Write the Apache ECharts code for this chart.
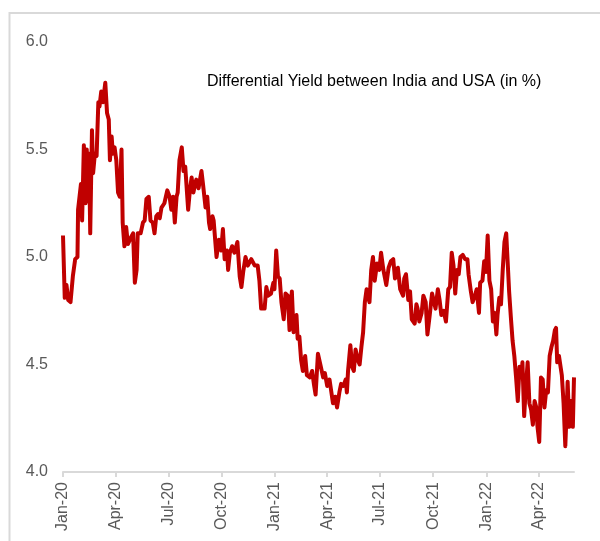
<!DOCTYPE html>
<html>
<head>
<meta charset="utf-8">
<script src="https://cdn.jsdelivr.net/npm/echarts@6/dist/echarts.min.js"></script>
<style>
html,body{margin:0;padding:0;background:#fff;}
#chart{width:600px;height:541px;}
</style>
</head>
<body>
<div id="chart"></div>
<script>
const chartTitle = 'Differential Yield between India and USA (in %)';

const dates = [
'2020-01-01','2020-01-04','2020-01-07','2020-01-10','2020-01-14','2020-01-18','2020-01-22','2020-01-26','2020-01-27','2020-01-30',
'2020-02-01','2020-02-03','2020-02-06','2020-02-09','2020-02-11','2020-02-13','2020-02-15','2020-02-17','2020-02-20','2020-02-22',
'2020-02-25','2020-02-28','2020-03-02','2020-03-04','2020-03-07','2020-03-10','2020-03-14','2020-03-17','2020-03-20','2020-03-22',
'2020-03-25','2020-03-27','2020-03-30','2020-04-02','2020-04-05','2020-04-08','2020-04-11','2020-04-13','2020-04-16','2020-04-19',
'2020-04-22','2020-04-27','2020-05-01','2020-05-04','2020-05-07','2020-05-09','2020-05-14','2020-05-18','2020-05-21','2020-05-24',
'2020-05-28','2020-05-31','2020-06-04','2020-06-07','2020-06-10','2020-06-13','2020-06-16','2020-06-19','2020-06-24','2020-06-29',
'2020-07-03','2020-07-06','2020-07-09','2020-07-12','2020-07-15','2020-07-17','2020-07-20','2020-07-24','2020-07-27','2020-07-30',
'2020-08-04','2020-08-07','2020-08-10','2020-08-13','2020-08-18','2020-08-22','2020-08-27','2020-08-30','2020-09-03','2020-09-06',
'2020-09-09','2020-09-11','2020-09-15','2020-09-17','2020-09-22','2020-09-26','2020-09-30','2020-10-03','2020-10-06','2020-10-10',
'2020-10-12','2020-10-15','2020-10-19','2020-10-23','2020-10-28','2020-11-01','2020-11-04','2020-11-07','2020-11-11','2020-11-15',
'2020-11-21','2020-11-27','2020-12-02','2020-12-05','2020-12-08','2020-12-14','2020-12-17','2020-12-20','2020-12-25','2020-12-29',
'2020-12-31','2021-01-03','2021-01-06','2021-01-09','2021-01-12','2021-01-16','2021-01-19','2021-01-23','2021-01-26','2021-01-30',
'2021-02-02','2021-02-07','2021-02-09','2021-02-12','2021-02-15','2021-02-18','2021-02-22','2021-02-25','2021-03-02','2021-03-06',
'2021-03-09','2021-03-12','2021-03-16','2021-03-21','2021-03-25','2021-03-28','2021-04-01','2021-04-05','2021-04-08','2021-04-11',
'2021-04-15','2021-04-18','2021-04-22','2021-04-25','2021-04-29','2021-05-03','2021-05-05','2021-05-07','2021-05-11','2021-05-14',
'2021-05-17','2021-05-20','2021-05-24','2021-05-27','2021-05-30','2021-06-02','2021-06-05','2021-06-08','2021-06-10','2021-06-13',
'2021-06-16','2021-06-19','2021-06-22','2021-06-26','2021-06-30','2021-07-03','2021-07-07','2021-07-12','2021-07-16','2021-07-20',
'2021-07-24','2021-07-27','2021-08-01','2021-08-05','2021-08-10','2021-08-12','2021-08-15','2021-08-19','2021-08-22','2021-08-25',
'2021-08-30','2021-09-02','2021-09-04','2021-09-07','2021-09-11','2021-09-14','2021-09-18','2021-09-21','2021-09-25','2021-09-29',
'2021-10-02','2021-10-05','2021-10-09','2021-10-12','2021-10-15','2021-10-19','2021-10-23','2021-10-27','2021-10-30','2021-11-02',
'2021-11-05','2021-11-08','2021-11-11','2021-11-14','2021-11-17','2021-11-21','2021-11-25','2021-11-29','2021-12-01','2021-12-05',
'2021-12-08','2021-12-12','2021-12-15','2021-12-19','2021-12-21','2021-12-25','2021-12-28','2021-12-31','2022-01-03','2022-01-06',
'2022-01-09','2022-01-12','2022-01-15','2022-01-18','2022-01-20','2022-01-23','2022-01-26','2022-01-29','2022-02-01','2022-02-04',
'2022-02-07','2022-02-09','2022-02-12','2022-02-15','2022-02-18','2022-02-21','2022-02-24','2022-02-27','2022-03-02','2022-03-04',
'2022-03-07','2022-03-10','2022-03-13','2022-03-16','2022-03-19','2022-03-22','2022-03-25','2022-03-28','2022-03-30','2022-04-02',
'2022-04-05','2022-04-08','2022-04-11','2022-04-14','2022-04-17','2022-04-20','2022-04-23','2022-04-26','2022-04-29','2022-05-01',
'2022-05-03','2022-05-06','2022-05-09','2022-05-11','2022-05-14','2022-05-17','2022-05-19','2022-05-21','2022-05-24','2022-05-27',
'2022-05-30','2022-06-01'
];

const yieldDiff = [
5.10,4.81,4.87,4.80,4.79,4.91,4.99,5.00,5.22,5.22,
5.34,5.17,5.52,5.25,5.50,5.26,5.48,5.11,5.59,5.39,
5.48,5.47,5.72,5.70,5.77,5.72,5.81,5.67,5.64,5.45,
5.56,5.48,5.51,5.45,5.30,5.28,5.50,5.16,5.05,5.14,
5.06,5.09,5.11,4.88,4.94,5.11,5.11,5.16,5.17,5.27,
5.28,5.17,5.16,5.11,5.19,5.20,5.18,5.23,5.25,5.31,
5.28,5.22,5.28,5.16,5.28,5.30,5.45,5.51,5.40,5.42,
5.22,5.31,5.37,5.30,5.36,5.32,5.40,5.33,5.23,5.28,
5.16,5.13,5.19,5.17,5.00,5.08,5.03,5.13,4.99,5.03,
4.94,5.02,5.05,5.02,5.07,4.91,4.86,4.93,5.00,4.96,
4.99,4.96,4.96,4.89,4.76,4.76,4.86,4.82,4.83,4.88,
4.85,5.03,4.91,4.90,4.79,4.71,4.83,4.82,4.66,4.84,
4.65,4.73,4.62,4.63,4.52,4.47,4.54,4.45,4.44,4.47,
4.41,4.36,4.55,4.49,4.44,4.46,4.40,4.43,4.43,4.32,
4.35,4.30,4.37,4.41,4.40,4.43,4.37,4.47,4.59,4.49,
4.47,4.57,4.52,4.50,4.58,4.65,4.79,4.85,4.82,4.79,
4.94,5.00,4.89,4.97,4.94,5.02,4.94,4.87,4.95,4.98,
4.99,4.90,4.95,4.85,4.82,4.90,4.92,4.80,4.84,4.71,
4.69,4.78,4.76,4.70,4.74,4.82,4.79,4.64,4.73,4.83,
4.83,4.76,4.85,4.80,4.73,4.75,4.70,4.85,4.86,5.02,
4.96,4.83,4.94,4.92,5.00,5.01,4.99,4.99,4.92,4.84,
4.79,4.82,4.85,4.74,4.88,4.89,4.98,4.93,5.10,4.89,
4.85,4.70,4.74,4.64,4.73,4.81,4.78,4.94,5.07,5.11,
4.95,4.84,4.72,4.61,4.54,4.44,4.33,4.49,4.44,4.51,
4.26,4.40,4.51,4.32,4.29,4.22,4.33,4.30,4.21,4.14,
4.44,4.43,4.30,4.38,4.37,4.54,4.58,4.61,4.66,4.67,
4.51,4.54,4.54,4.45,4.32,4.12,4.26,4.42,4.21,4.33,
4.21,4.44
];

const tickDates = ['2020-01-01','2020-04-01','2020-07-01','2020-10-01','2021-01-01','2021-04-01','2021-07-01','2021-10-01','2022-01-01','2022-04-01'];
const tickLabels = ['Jan-20','Apr-20','Jul-20','Oct-20','Jan-21','Apr-21','Jul-21','Oct-21','Jan-22','Apr-22'];

function toTs(s) {
  const p = s.split('-').map(Number);
  return Date.UTC(p[0], p[1] - 1, p[2]);
}
const tickTs = tickDates.map(toTs);
const seriesData = dates.map((d, i) => [toTs(d), yieldDiff[i]]);

const chart = echarts.init(document.getElementById('chart'), null, {renderer: 'canvas'});
const font = '"Liberation Sans", Arial, sans-serif';
chart.setOption({
  animation: false,
  backgroundColor: '#ffffff',
  grid: {left: 63, right: 26, top: 42, bottom: 69, containLabel: false},
  title: {
    text: chartTitle,
    left: 202, top: 69,
    textStyle: {fontFamily: font, fontSize: 16, fontWeight: 'normal', color: '#000000'}
  },
  graphic: [{
    type: 'rect', silent: true, z: -1,
    shape: {x: 9.5, y: 13, width: 800, height: 800},
    style: {fill: 'none', stroke: '#d9d9d9', lineWidth: 2}
  }],
  xAxis: {
    type: 'value',
    min: toTs('2020-01-01'),
    max: toTs('2022-06-01'),
    axisLine: {show: true, lineStyle: {color: '#d9d9d9', width: 2}},
    axisTick: {show: true, customValues: tickTs, length: 5, lineStyle: {color: '#d9d9d9', width: 2}},
    axisLabel: {
      customValues: tickTs,
      rotate: 90,
      margin: 10,
      color: '#595959',
      fontFamily: font,
      fontSize: 16,
      formatter: function (v) {
        let best = 0, bd = Infinity;
        tickTs.forEach((t, i) => { const dd = Math.abs(t - v); if (dd < bd) { bd = dd; best = i; } });
        return tickLabels[best];
      }
    },
    splitLine: {show: false}
  },
  yAxis: {
    type: 'value',
    min: 4, max: 6, interval: 0.5,
    axisLine: {show: false},
    axisTick: {show: false},
    splitLine: {show: false},
    axisLabel: {
      margin: 15,
      color: '#595959',
      fontFamily: font,
      fontSize: 16,
      formatter: v => v.toFixed(1)
    }
  },
  series: [{
    type: 'line',
    data: seriesData,
    showSymbol: false,
    symbol: 'none',
    lineStyle: {color: '#c00000', width: 4, join: 'round'},
    itemStyle: {color: '#c00000'}
  }]
});
</script>
</body>
</html>
